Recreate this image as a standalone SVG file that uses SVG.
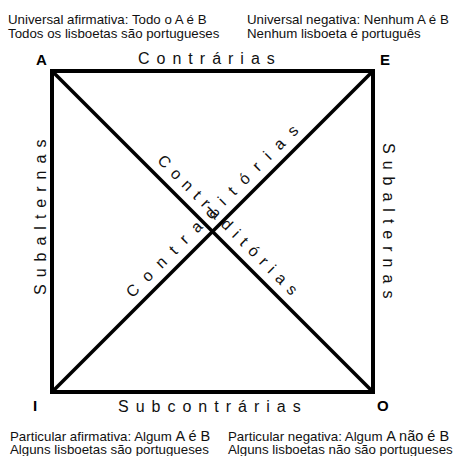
<svg xmlns="http://www.w3.org/2000/svg" width="453" height="456" viewBox="0 0 453 456">
<style>
.desc{font-family:"Liberation Sans",Arial,sans-serif;font-size:13.3px;fill:#111}
.corner{font-family:"Liberation Sans",Arial,sans-serif;font-size:15px;font-weight:bold;fill:#000}
.lab{font-family:"Liberation Sans",Arial,sans-serif;font-size:16px;letter-spacing:7px;fill:#111}
.diag{font-family:"Liberation Sans",Arial,sans-serif;font-size:16px;fill:#111}
.edge{stroke:#000;stroke-width:4;fill:none;stroke-linecap:square}
.cross{stroke:#000;stroke-width:3.5;fill:none}
</style>
<rect width="453" height="456" fill="#fff"/>
<g id="connectors">
  <line class="edge" x1="52" y1="71" x2="373" y2="71"/>
  <line class="edge" x1="52" y1="392" x2="373" y2="392"/>
  <line class="edge" x1="52" y1="71" x2="52" y2="392"/>
  <line class="edge" x1="373" y1="71" x2="373" y2="392"/>
  <line class="cross" x1="52" y1="71" x2="373" y2="392"/>
  <line class="cross" x1="373" y1="71" x2="52" y2="392"/>
  <text class="lab" x="138" y="64">Contrárias</text>
  <text class="lab" x="118" y="412">Subcontrárias</text>
  <text class="lab" transform="translate(46,295) rotate(-90)" x="0" y="0">Subalternas</text>
  <text class="lab" transform="translate(383,143) rotate(90)" x="0" y="0">Subalternas</text>
  <text class="diag" letter-spacing="10.5" transform="translate(213,232) rotate(-45)" x="-104" y="-10">Contraditórias</text>
  <text class="diag" letter-spacing="7" transform="translate(213,232) rotate(45)" x="-90" y="-10">Contraditórias</text>
</g>
<g id="node-A">
  <text class="corner" x="36" y="65">A</text>
  <text class="desc" x="8" y="24">Universal afirmativa: Todo o A é B</text>
  <text class="desc" x="8" y="38">Todos os lisboetas são portugueses</text>
</g>
<g id="node-E">
  <text class="corner" x="380" y="65">E</text>
  <text class="desc" x="247" y="24">Universal negativa: Nenhum A é B</text>
  <text class="desc" x="247" y="38">Nenhum lisboeta é português</text>
</g>
<g id="node-I">
  <text class="corner" x="33" y="411">I</text>
  <text class="desc" x="10" y="441">Particular afirmativa: Algum <tspan font-size="14.5">A é B</tspan></text>
  <text class="desc" x="10" y="454">Alguns lisboetas são portugueses</text>
</g>
<g id="node-O">
  <text class="corner" x="377" y="411">O</text>
  <text class="desc" x="228" y="441">Particular negativa: Algum <tspan font-size="14.5">A não é B</tspan></text>
  <text class="desc" x="228" y="454">Alguns lisboetas não são portugueses</text>
</g>
</svg>
